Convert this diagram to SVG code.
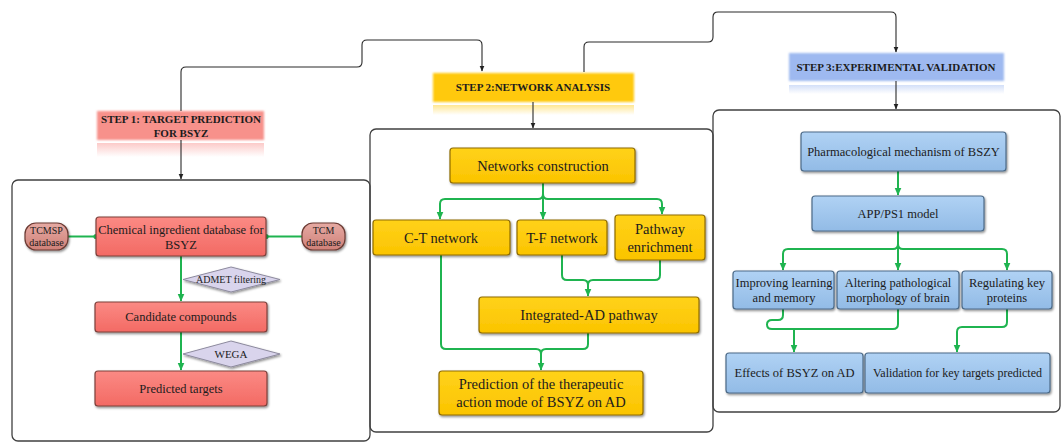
<svg xmlns="http://www.w3.org/2000/svg" width="1062" height="443" viewBox="0 0 1062 443">
<defs>
<filter id="sh" x="-10%" y="-20%" width="125%" height="150%"><feDropShadow dx="1" dy="1.5" stdDeviation="0.9" flood-color="#000" flood-opacity="0.45"/></filter>
<filter id="soft" x="-5%" y="-20%" width="110%" height="140%"><feGaussianBlur stdDeviation="0.9"/></filter>
<linearGradient id="gr" x1="0" y1="0" x2="0" y2="1"><stop offset="0" stop-color="#fb8a84"/><stop offset="1" stop-color="#f36a64"/></linearGradient>
<linearGradient id="gy" x1="0" y1="0" x2="0" y2="1"><stop offset="0" stop-color="#ffd21a"/><stop offset="1" stop-color="#fbc400"/></linearGradient>
<linearGradient id="gb" x1="0" y1="0" x2="0" y2="1"><stop offset="0" stop-color="#b0d2f4"/><stop offset="1" stop-color="#92bbe6"/></linearGradient>
<linearGradient id="gp" x1="0" y1="0" x2="0" y2="1"><stop offset="0" stop-color="#e6aaa3"/><stop offset="1" stop-color="#cf8078"/></linearGradient>
<linearGradient id="rr" x1="0" y1="0" x2="0" y2="1"><stop offset="0" stop-color="#f88a86" stop-opacity="0.45"/><stop offset="1" stop-color="#f88a86" stop-opacity="0"/></linearGradient>
<linearGradient id="ry" x1="0" y1="0" x2="0" y2="1"><stop offset="0" stop-color="#ffc90e" stop-opacity="0.45"/><stop offset="1" stop-color="#ffc90e" stop-opacity="0"/></linearGradient>
<linearGradient id="rb" x1="0" y1="0" x2="0" y2="1"><stop offset="0" stop-color="#9db9f0" stop-opacity="0.45"/><stop offset="1" stop-color="#9db9f0" stop-opacity="0"/></linearGradient>
<marker id="ab" viewBox="0 0 6 6" refX="5.5" refY="3" markerWidth="6" markerHeight="6" markerUnits="userSpaceOnUse" orient="auto"><path d="M0,0.5 L6,3 L0,5.5 Z" fill="#222"/></marker>
<marker id="ag" viewBox="0 0 8 8" refX="7.5" refY="4" markerWidth="8" markerHeight="8" markerUnits="userSpaceOnUse" orient="auto"><path d="M0,0.5 L8,4 L0,7.5 Z" fill="#1fb450"/></marker>
<style>
.panel{fill:none;stroke:#404040;stroke-width:1.3}
.blk{fill:none;stroke:#2a2a2a;stroke-width:1.1}
.grn{fill:none;stroke:#1fb450;stroke-width:2}
.red{fill:url(#gr);stroke:#7e413b;stroke-width:1.2;filter:url(#sh)}
.yel{fill:url(#gy);stroke:#8f6c00;stroke-width:1.2;filter:url(#sh)}
.blu{fill:url(#gb);stroke:#4c6a88;stroke-width:1.2;filter:url(#sh)}
.pill{fill:url(#gp);stroke:#6b3a33;stroke-width:1.2;filter:url(#sh)}
.dia{fill:#d9d4ec;stroke:#8d8a9e;stroke-width:1;filter:url(#sh)}
text{font-family:"Liberation Serif","Times New Roman",serif;fill:#1c1c1c;text-anchor:middle}
.lab{font-weight:bold;font-size:11px}
.t1{font-size:12.5px}
.t2{font-size:14.5px}
.t3{font-size:12.5px}
.sm{font-size:10px}
</style>
</defs>

<g id="panels">
<rect id="panel1" class="panel" x="12" y="180" width="358" height="261" rx="6"/>
<rect id="panel2" class="panel" x="370" y="129" width="343" height="303" rx="6"/>
<rect id="panel3" class="panel" x="713" y="110" width="347" height="302" rx="6"/>
</g>

<g id="step-labels">
<g id="step1">
<rect x="97" y="143" width="167" height="14" fill="url(#rr)"/>
<rect x="97" y="111" width="167" height="29" fill="#f7918b" filter="url(#soft)"/>
<text class="lab" x="181" y="123">STEP 1: TARGET PREDICTION</text>
<text class="lab" x="181" y="137">FOR BSYZ</text>
</g>
<g id="step2">
<rect x="433" y="105" width="201" height="10" fill="url(#ry)"/>
<rect x="433" y="73" width="201" height="29" fill="#ffc90e" filter="url(#soft)"/>
<text class="lab" x="533" y="91">STEP 2:NETWORK ANALYSIS</text>
</g>
<g id="step3">
<rect x="789" y="85" width="215" height="9" fill="url(#rb)"/>
<rect x="789" y="53" width="215" height="28" fill="#9eb9f0" filter="url(#soft)"/>
<text class="lab" x="896" y="71">STEP 3:EXPERIMENTAL VALIDATION</text>
</g>
</g>

<g id="connectors">
<path class="blk" marker-end="url(#ab)" d="M181,111 V72 Q181,67 186,67 H357 Q362,67 362,62 V45 Q362,40 367,40 H477 Q482,40 482,45 V71"/>
<path class="blk" marker-end="url(#ab)" d="M584,72 V47 Q584,42 589,42 H708 Q713,42 713,37 V17 Q713,12 718,12 H891 Q896,12 896,17 V52"/>
<path class="blk" marker-end="url(#ab)" d="M181,140 V179"/>
<path class="blk" marker-end="url(#ab)" d="M533,102 V128"/>
<path class="blk" marker-end="url(#ab)" d="M896,81 V109"/>

<path class="grn" d="M68,236.5 H96"/>
<path class="grn" d="M302,236.5 H266"/>
<circle cx="96" cy="236.5" r="2.6" fill="#1fb450"/>
<circle cx="266" cy="236.5" r="2.6" fill="#1fb450"/>
<path class="grn" marker-end="url(#ag)" d="M181,256 V301"/>
<path class="grn" marker-end="url(#ag)" d="M181,332 V370"/>

<path class="grn" marker-end="url(#ag)" d="M543,183 V219"/>
<path class="grn" marker-end="url(#ag)" d="M543,190 V194 Q543,199 538,199 H445 Q440,199 440,204 V219"/>
<path class="grn" marker-end="url(#ag)" d="M543,190 V194 Q543,199 548,199 H657 Q662,199 662,204 V214"/>
<path class="grn" marker-end="url(#ag)" d="M562,255 V275 Q562,280 567,280 H583 Q588,280 588,285 V296"/>
<path class="grn" d="M660,260 V275 Q660,280 655,280 H593 Q588,280 588,285"/>
<path class="grn" marker-end="url(#ag)" d="M441,255 V344 Q441,349 446,349 H536 Q541,349 541,354 V370"/>
<path class="grn" d="M588,333 V344 Q588,349 583,349 H546 Q541,349 541,354"/>

<path class="grn" marker-end="url(#ag)" d="M898,171 V195"/>
<path class="grn" marker-end="url(#ag)" d="M898,231 V270"/>
<path class="grn" marker-end="url(#ag)" d="M898,238 V244 Q898,249 893,249 H788 Q783,249 783,254 V270"/>
<path class="grn" marker-end="url(#ag)" d="M898,238 V244 Q898,249 903,249 H1002 Q1007,249 1007,254 V270"/>
<path class="grn" d="M783,309 V315 Q783,320 778,320 H772 Q767,320 767,324.5 Q767,329 772,329 H893 Q898,329 898,324 V309"/>
<path class="grn" marker-end="url(#ag)" d="M794,329 V352"/>
<path class="grn" marker-end="url(#ag)" d="M1007,309 V322 Q1007,327 1002,327 H962 Q957,327 957,332 V352"/>
</g>

<g id="n-tcmsp"><rect class="pill" x="25" y="223" width="43" height="27" rx="11"/><text class="sm" x="46.5" y="234">TCMSP</text><text class="sm" x="46.5" y="246">database</text></g>
<g id="n-chem"><rect class="red" x="96" y="217" width="170" height="39" rx="3"/><text class="t1" x="181" y="234">Chemical ingredient database for</text><text class="t1" x="181" y="249">BSYZ</text></g>
<g id="n-tcm"><rect class="pill" x="302" y="223" width="43" height="27" rx="11"/><text class="sm" x="323.5" y="234">TCM</text><text class="sm" x="323.5" y="246">database</text></g>
<g id="n-admet"><polygon class="dia" points="183,279.5 231,267 280,279.5 231,292"/><text class="sm" x="231" y="283">ADMET filtering</text></g>
<g id="n-cand"><rect class="red" x="95" y="302" width="172" height="30" rx="3"/><text class="t1" x="181" y="321">Candidate compounds</text></g>
<g id="n-wega"><polygon class="dia" points="183,354 231,341 280,354 231,367"/><text x="231" y="358" style="font-size:11px">WEGA</text></g>
<g id="n-pred"><rect class="red" x="95" y="371" width="172" height="35" rx="3"/><text class="t1" x="181" y="393">Predicted targets</text></g>

<g id="n-netcon"><rect class="yel" x="450" y="148" width="185" height="35" rx="3"/><text class="t2" x="543" y="171">Networks construction</text></g>
<g id="n-ct"><rect class="yel" x="373" y="220" width="137" height="35" rx="3"/><text class="t2" x="441" y="243">C-T network</text></g>
<g id="n-tf"><rect class="yel" x="517" y="220" width="90" height="35" rx="3"/><text class="t2" x="562" y="243">T-F network</text></g>
<g id="n-path"><rect class="yel" x="615" y="215" width="90" height="45" rx="3"/><text class="t2" x="660" y="234">Pathway</text><text class="t2" x="660" y="252">enrichment</text></g>
<g id="n-integ"><rect class="yel" x="479" y="297" width="220" height="36" rx="3"/><text class="t2" x="589" y="320">Integrated-AD pathway</text></g>
<g id="n-predict"><rect class="yel" x="439" y="371" width="204" height="44" rx="3"/><text class="t2" x="541" y="389">Prediction of the therapeutic</text><text class="t2" x="541" y="407">action mode of BSYZ on AD</text></g>

<g id="n-pharm"><rect class="blu" x="801" y="132" width="205" height="39" rx="3"/><text class="t3" x="903.5" y="156">Pharmacological mechanism of BSZY</text></g>
<g id="n-app"><rect class="blu" x="812" y="196" width="172" height="35" rx="3"/><text class="t3" x="898" y="218">APP/PS1 model</text></g>
<g id="n-impr"><rect class="blu" x="733" y="271" width="101" height="38" rx="3"/><text class="t3" x="784" y="287">Improving learning</text><text class="t3" x="784" y="302">and memory</text></g>
<g id="n-alter"><rect class="blu" x="837" y="271" width="122" height="38" rx="3"/><text class="t3" x="898" y="287">Altering pathological</text><text class="t3" x="898" y="302">morphology of brain</text></g>
<g id="n-regul"><rect class="blu" x="962" y="271" width="90" height="38" rx="3"/><text class="t3" x="1007" y="287">Regulating key</text><text class="t3" x="1007" y="302">proteins</text></g>
<g id="n-effects"><rect class="blu" x="726" y="353" width="137" height="40" rx="3"/><text class="t3" x="794.5" y="377">Effects of BSYZ on AD</text></g>
<g id="n-valid"><rect class="blu" x="865" y="353" width="185" height="40" rx="3"/><text x="957.5" y="377" style="font-size:12px">Validation for key targets predicted</text></g>
</svg>
